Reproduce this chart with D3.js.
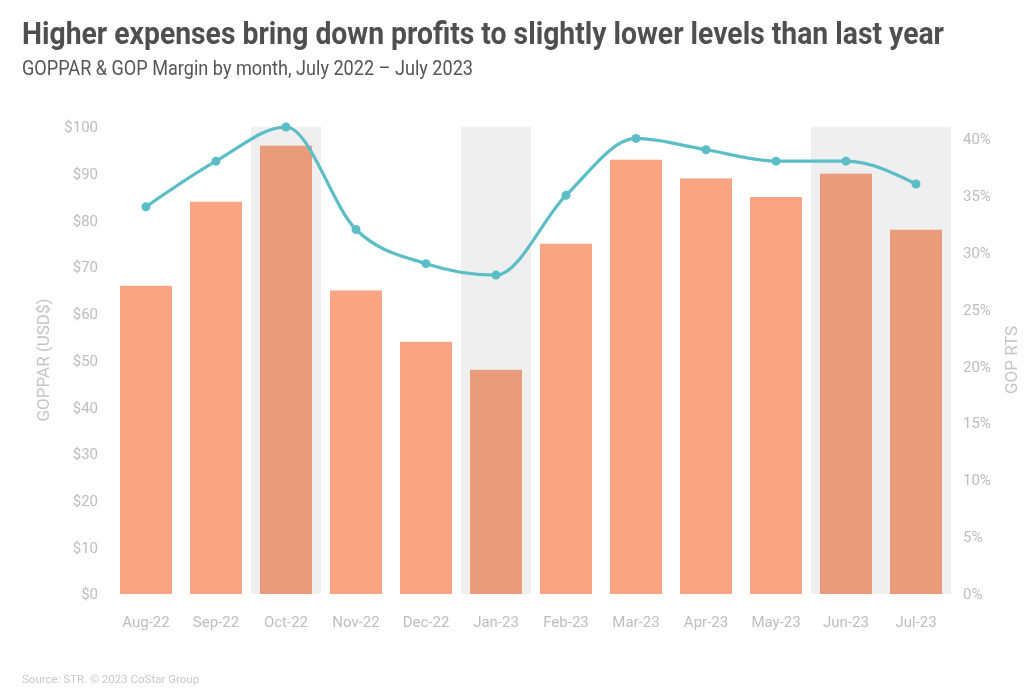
<!DOCTYPE html>
<html><head><meta charset="utf-8">
<script src="https://cdn.jsdelivr.net/npm/d3@7"></script>
<style>
body{margin:0;background:#fff;}
text{font-family:Roboto,"Noto Sans",sans-serif;}
</style></head>
<body><svg id="c" width="1024" height="696"></svg>
<script>
const months = ["Aug-22","Sep-22","Oct-22","Nov-22","Dec-22","Jan-23","Feb-23","Mar-23","Apr-23","May-23","Jun-23","Jul-23"];
const goppar = [66,84,96,65,54,48,75,93,89,85,90,78];
const gopMargin = [0.34,0.38,0.41,0.32,0.29,0.28,0.35,0.40,0.39,0.38,0.38,0.36];
const highlighted = ["Oct-22","Jan-23","Jun-23","Jul-23"];
const leftTicks = [0,10,20,30,40,50,60,70,80,90,100];
const rightTicks = [0,0.05,0.10,0.15,0.20,0.25,0.30,0.35,0.40];

const svg = d3.select("#c");
const L=111,R=951,T=127,B=594;
const pad=0.257;
const x = d3.scaleBand().domain(months).range([L,R]).paddingInner(pad).paddingOuter(pad/2);
const step = x.step();
const yL = d3.scaleLinear().domain([0,100]).range([B,T]);
const yR = d3.scaleLinear().domain([0,0.41]).range([B,T]);

// title
svg.append("text").attr("x",22).attr("y",44).attr("font-size",31).attr("font-weight",700)
  .attr("fill","#4f4f4f").attr("textLength",922).attr("lengthAdjust","spacingAndGlyphs")
  .text("Higher expenses bring down profits to slightly lower levels than last year");
svg.append("text").attr("x",22).attr("y",75).attr("font-size",19.5)
  .attr("fill","#555").attr("textLength",451).attr("lengthAdjust","spacingAndGlyphs")
  .text("GOPPAR & GOP Margin by month, July 2022 – July 2023");

// bars
svg.append("g").selectAll("rect").data(months).join("rect")
  .attr("x",d=>x(d)).attr("width",x.bandwidth())
  .attr("y",(d,i)=>yL(goppar[i])).attr("height",(d,i)=>B-yL(goppar[i]))
  .attr("fill","#f9a584");

// highlight bands (multiply)
svg.append("g").selectAll("rect").data(highlighted).join("rect")
  .attr("x",d=>x(d)-step*pad/2).attr("width",step)
  .attr("y",T).attr("height",B-T)
  .attr("fill","#efefef").style("mix-blend-mode","multiply");

// line
const line = d3.line().x((d,i)=>x(months[i])+x.bandwidth()/2).y(d=>yR(d)).curve(d3.curveMonotoneX);
svg.append("path").datum(gopMargin).attr("d",line).attr("fill","none")
  .attr("stroke","#5bbec6").attr("stroke-width",3.2);
svg.append("g").selectAll("circle").data(gopMargin).join("circle")
  .attr("cx",(d,i)=>x(months[i])+x.bandwidth()/2).attr("cy",d=>yR(d)).attr("r",4.5)
  .attr("fill","#5bbec6");

// axes
const tickCol="#bdbdbd";
const gl = svg.append("g").attr("transform",`translate(${L-13},0)`)
  .call(d3.axisLeft(yL).tickValues(leftTicks).tickSize(0).tickPadding(0).tickFormat(d=>"$"+d));
const gr = svg.append("g").attr("transform",`translate(${R+12},0)`)
  .call(d3.axisRight(yR).tickValues(rightTicks).tickSize(0).tickPadding(0).tickFormat(d3.format(".0%")));
const gx = svg.append("g").attr("transform",`translate(0,${B+10})`)
  .call(d3.axisBottom(x).tickSize(0).tickPadding(12));
[gl,gr,gx].forEach(g=>{
  g.select(".domain").remove();
  g.selectAll("text").attr("fill",tickCol).attr("font-size",15).style("font-family","Roboto");
});

// axis titles
svg.append("text").attr("transform","translate(49,360) rotate(-90)").attr("text-anchor","middle")
  .attr("font-size",17).attr("fill","#c4c4c4").text("GOPPAR (USD$)");
svg.append("text").attr("transform","translate(1017,360) rotate(-90)").attr("text-anchor","middle")
  .attr("font-size",17).attr("fill","#c4c4c4").text("GOP RTS");

// source
svg.append("text").attr("x",22).attr("y",683).attr("font-size",11.5).attr("fill","#c8c8c8")
  .text("Source: STR. © 2023 CoStar Group");
</script></body></html>
